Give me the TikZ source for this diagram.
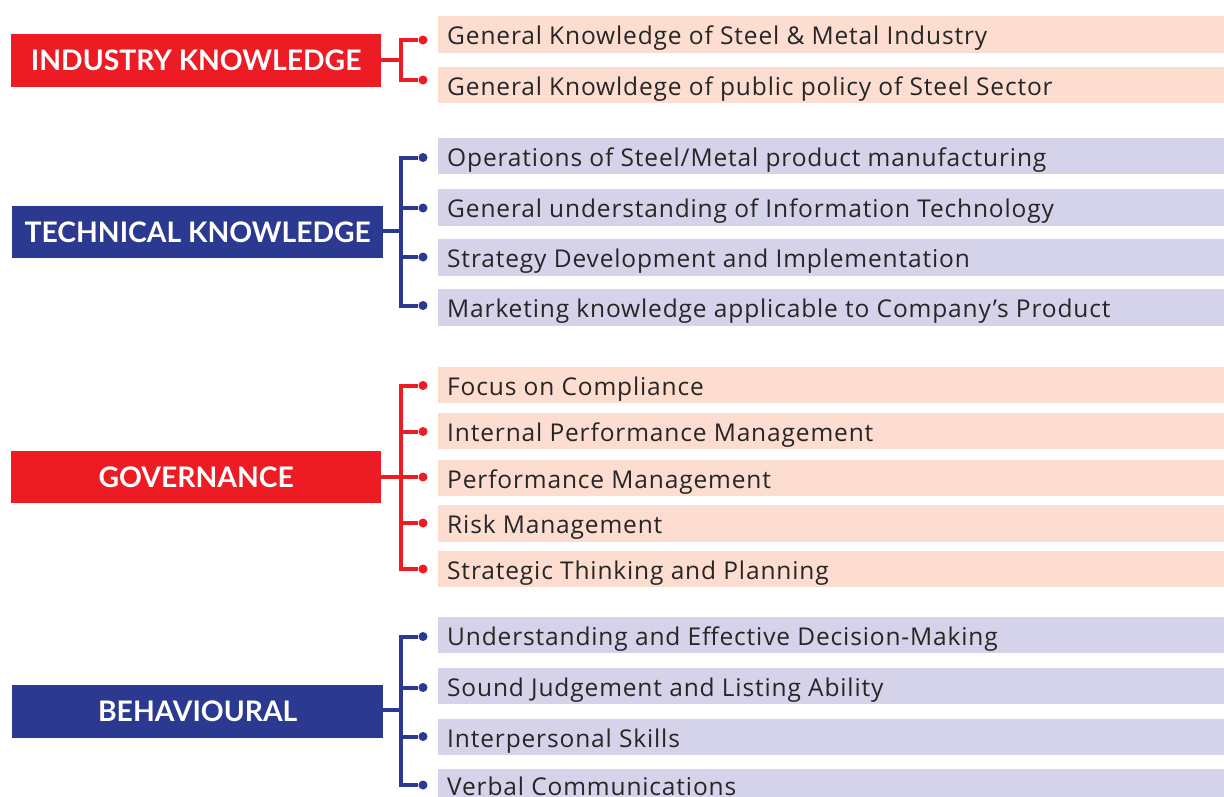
\documentclass[tikz,border=0pt]{standalone}
\usepackage{fontspec}
\setmainfont{Lato}
\newfontfamily\itemfont[LetterSpace=3.5]{Open Sans}
\definecolor{cred}{HTML}{ED1C24}
\definecolor{cblue}{HTML}{2B3990}
\definecolor{cpeach}{HTML}{FCDDD0}
\definecolor{clav}{HTML}{D5D3EA}
\tikzset{
  head/.style={anchor=north west, inner sep=0pt, text=white, font=\fontsize{28.3}{32}\selectfont\bfseries},
  itembox/.style={anchor=north west, inner sep=0pt, minimum width=786pt},
  itemtext/.style={anchor=base west, inner sep=0pt, text=black!85, font=\itemfont\fontsize{24.5}{28}\selectfont},
  dot/.style={circle, inner sep=0pt, minimum size=9pt},
  conn/.style={line width=4pt, line join=miter},
}
\begin{document}
\begin{tikzpicture}[x=1pt,y=-1pt]
\useasboundingbox (0,0) rectangle (1224,796);
\clip (0,0) rectangle (1224,796);
% ---------- INDUSTRY KNOWLEDGE ----------
\node[head, fill=cred, minimum width=370pt, minimum height=53pt] (ik) at (11,34) {INDUSTRY KNOWLEDGE};
\node[itembox, fill=cpeach, minimum height=37pt] (i1) at (438,16) {};
\node[itembox, fill=cpeach, minimum height=36pt] (i2) at (438,67) {};
\node[itemtext] at (447,44) {General Knowledge of Steel \& Metal Industry};
\node[itemtext] at (447,95) {General Knowldege of public policy of Steel Sector};
\coordinate (ij) at (401,60);
\node[dot, fill=cred] (id1) at (423,40) {};
\node[dot, fill=cred] (id2) at (423,80) {};
\draw[conn, cred] (ik.east |- ij) -- (ij);
\draw[conn, cred] (id1) -| (ij);
\draw[conn, cred] (id2) -| (ij);
% ---------- TECHNICAL KNOWLEDGE ----------
\node[head, fill=cblue, minimum width=371pt, minimum height=52pt] (tk) at (12,206) {TECHNICAL KNOWLEDGE};
\node[itembox, fill=clav, minimum height=36pt] (t1) at (438,138) {};
\node[itembox, fill=clav, minimum height=37pt] (t2) at (438,189) {};
\node[itembox, fill=clav, minimum height=37pt] (t3) at (438,239) {};
\node[itembox, fill=clav, minimum height=37pt] (t4) at (438,289) {};
\node[itemtext] at (447,166) {Operations of Steel/Metal product manufacturing};
\node[itemtext] at (447,217) {General understanding of Information Technology};
\node[itemtext] at (447,267) {Strategy Development and Implementation};
\node[itemtext] at (447,317) {Marketing knowledge applicable to Company’s Product};
\coordinate (tj) at (401,231);
\node[dot, fill=cblue] (td1) at (423,157.5) {};
\node[dot, fill=cblue] (td2) at (423,208) {};
\node[dot, fill=cblue] (td3) at (423,257) {};
\node[dot, fill=cblue] (td4) at (423,305.5) {};
\draw[conn, cblue] (tk.east |- tj) -- (tj);
\draw[conn, cblue] (td1) -| (tj);
\draw[conn, cblue] (td2) -| (tj);
\draw[conn, cblue] (td3) -| (tj);
\draw[conn, cblue] (td4) -| (tj);
% ---------- GOVERNANCE ----------
\node[head, fill=cred, minimum width=370pt, minimum height=52pt] (gv) at (11,451) {GOVERNANCE};
\node[itembox, fill=cpeach, minimum height=36pt] (g1) at (438,367) {};
\node[itembox, fill=cpeach, minimum height=36pt] (g2) at (438,413) {};
\node[itembox, fill=cpeach, minimum height=36pt] (g3) at (438,460) {};
\node[itembox, fill=cpeach, minimum height=37pt] (g4) at (438,505) {};
\node[itembox, fill=cpeach, minimum height=36pt] (g5) at (438,551) {};
\node[itemtext] at (447,395) {Focus on Compliance};
\node[itemtext] at (447,441) {Internal Performance Management};
\node[itemtext] at (447,488) {Performance Management};
\node[itemtext] at (447,533) {Risk Management};
\node[itemtext] at (447,579) {Strategic Thinking and Planning};
\coordinate (gj) at (401,477);
\node[dot, fill=cred] (gd1) at (423,385.5) {};
\node[dot, fill=cred] (gd2) at (423,431.5) {};
\node[dot, fill=cred] (gd3) at (423,477) {};
\node[dot, fill=cred] (gd4) at (423,523) {};
\node[dot, fill=cred] (gd5) at (423,569) {};
\draw[conn, cred] (gv.east |- gj) -- (gj);
\draw[conn, cred] (gd1) -| (gj);
\draw[conn, cred] (gd2) -| (gj);
\draw[conn, cred] (gd3) -- (gj);
\draw[conn, cred] (gd4) -| (gj);
\draw[conn, cred] (gd5) -| (gj);
% ---------- BEHAVIOURAL ----------
\node[head, fill=cblue, minimum width=371pt, minimum height=53pt] (bh) at (12,685) {BEHAVIOURAL};
\node[itembox, fill=clav, minimum height=36pt] (b1) at (438,617) {};
\node[itembox, fill=clav, minimum height=36pt] (b2) at (438,668) {};
\node[itembox, fill=clav, minimum height=36pt] (b3) at (438,719) {};
\node[itembox, fill=clav, minimum height=36pt] (b4) at (438,769) {};
\node[itemtext] at (447,645) {Understanding and Effective Decision-Making};
\node[itemtext] at (447,696) {Sound Judgement and Listing Ability};
\node[itemtext] at (447,747) {Interpersonal Skills};
\node[itemtext] at (447,795.5) {Verbal Communications};
\coordinate (bj) at (401,710);
\node[dot, fill=cblue] (bd1) at (423,636.5) {};
\node[dot, fill=cblue] (bd2) at (423,687.5) {};
\node[dot, fill=cblue] (bd3) at (423,736.5) {};
\node[dot, fill=cblue] (bd4) at (423,785) {};
\draw[conn, cblue] (bh.east |- bj) -- (bj);
\draw[conn, cblue] (bd1) -| (bj);
\draw[conn, cblue] (bd2) -| (bj);
\draw[conn, cblue] (bd3) -| (bj);
\draw[conn, cblue] (bd4) -| (bj);
\end{tikzpicture}
\end{document}
